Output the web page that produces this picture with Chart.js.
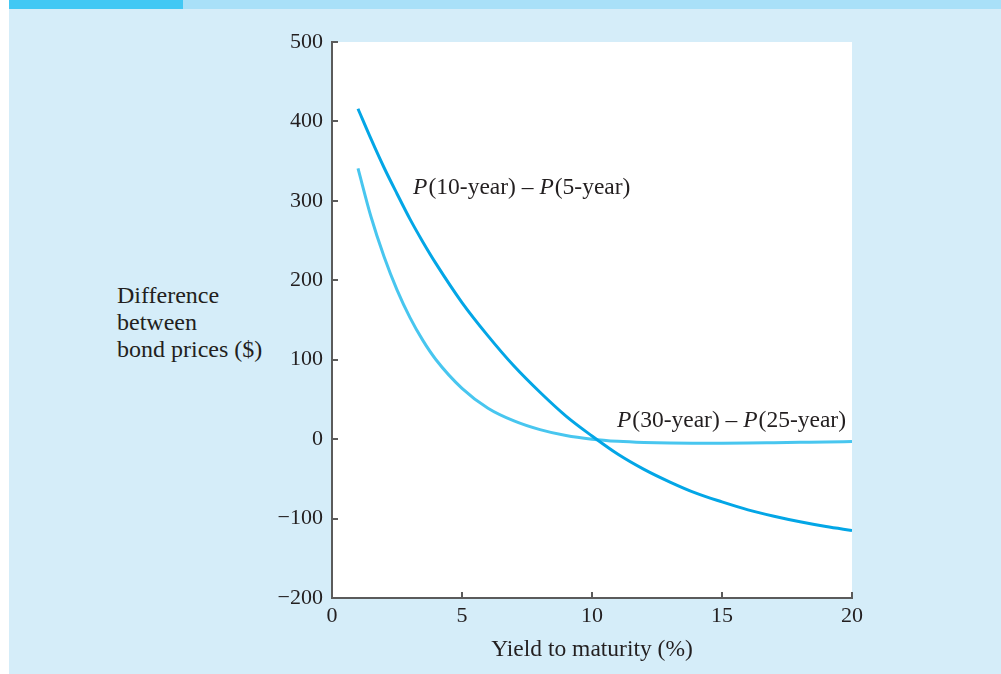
<!DOCTYPE html>
<html lang="en">
<head>
  <meta charset="UTF-8">
  <title>Difference between bond prices</title>
  <style>
    body {
      margin: 0;
      background: #ffffff;
      font-family: 'Liberation Serif', 'DejaVu Serif', serif;
    }

    .page {
      position: absolute;
      left: 9px;
      top: 0;
      width: 992px;
      height: 674px;
      background: #d5edf9;
    }

    .bar-dark {
      position: absolute;
      left: 9px;
      top: 0;
      width: 174px;
      height: 9px;
      background: #42c8f4;
    }

    .bar-light {
      position: absolute;
      left: 183px;
      top: 0;
      width: 818px;
      height: 9px;
      background: #a9e0f8;
    }

    .y-title {
      position: absolute;
      left: 117px;
      top: 282px;
      font-size: 24px;
      line-height: 27px;
      color: #231f20;
    }

    #chart-wrap {
      position: absolute;
      left: 0;
      top: 0;
      width: 1001px;
      height: 674px;
    }
  </style>
</head>
<body>
  <div class="page"></div>
  <div class="bar-dark"></div>
  <div class="bar-light"></div>
  <div class="y-title">Difference<br>between<br>bond prices ($)</div>

  <div id="chart-wrap">
    <canvas id="bond-chart" width="1001" height="674"></canvas>
  </div>

  <script src="https://cdn.jsdelivr.net/npm/chart.js"></script>
  <script>
    // yields (%) and price differences ($)
    const yields = [1, 1.5, 2, 2.5, 3, 3.5, 4, 5, 6, 7, 8, 9, 10, 11, 12, 13, 14, 15, 16, 17, 18, 19, 20];
    const diff10vs5 = [416, 378, 342, 309, 277, 248, 221, 172, 130, 92, 59, 29, 4, -19, -38, -54, -68, -79, -89, -97, -104, -110, -115];
    const diff30vs25 = [341, 280, 230, 188, 153, 124, 100, 64, 39, 23, 12, 4.5, 0, -2.7, -4.2, -5, -5.2, -5.1, -4.8, -4.4, -4, -3.6, -3];

    const xTicks = [0, 5, 10, 15, 20];
    const yTicks = [-200, -100, 0, 100, 200, 300, 400, 500];

    // curve labels: [x, y] in data units
    const label10 = { x: 3.12, y: 316, parts: [["P", true], ["(10-year) \u2013 ", false], ["P", true], ["(5-year)", false]] };
    const label30 = { x: 10.96, y: 23, parts: [["P", true], ["(30-year) \u2013 ", false], ["P", true], ["(25-year)", false]] };

    const textColor = "#231f20";
    const axisColor = "#5b5b5b";
    const serif = "'Liberation Serif', 'DejaVu Serif', serif";

    function toPoints(xs, ys) {
      return xs.map((x, i) => ({ x: x, y: ys[i] }));
    }

    const plotBackground = {
      id: "plotBackground",
      beforeDraw(chart) {
        const { ctx, chartArea } = chart;
        ctx.save();
        ctx.fillStyle = "#ffffff";
        ctx.fillRect(chartArea.left, chartArea.top, chartArea.right - chartArea.left, chartArea.bottom - chartArea.top);
        ctx.restore();
      },
    };

    // tick marks point into the plot, like the printed figure
    const innerTicks = {
      id: "innerTicks",
      afterDraw(chart) {
        const { ctx, chartArea } = chart;
        const xs = chart.scales.x;
        const ys = chart.scales.y;
        ctx.save();
        ctx.strokeStyle = axisColor;
        ctx.lineWidth = 2;
        ctx.beginPath();
        yTicks.forEach((v) => {
          const py = Math.round(ys.getPixelForValue(v));
          ctx.moveTo(chartArea.left, py);
          ctx.lineTo(chartArea.left + 6, py);
        });
        xTicks.forEach((v) => {
          const px = Math.round(xs.getPixelForValue(v));
          ctx.moveTo(px, chartArea.bottom);
          ctx.lineTo(px, chartArea.bottom - 6);
        });
        ctx.stroke();
        ctx.restore();
      },
    };

    const curveLabels = {
      id: "curveLabels",
      afterDraw(chart) {
        const { ctx } = chart;
        const xs = chart.scales.x;
        const ys = chart.scales.y;
        ctx.save();
        ctx.fillStyle = textColor;
        ctx.textBaseline = "middle";
        [label10, label30].forEach((lab) => {
          let px = xs.getPixelForValue(lab.x);
          const py = ys.getPixelForValue(lab.y);
          lab.parts.forEach(([txt, italic]) => {
            ctx.font = (italic ? "italic " : "") + "23.5px " + serif;
            ctx.fillText(txt, px, py);
            px += ctx.measureText(txt).width + (italic ? 1 : 0);
          });
        });
        ctx.restore();
      },
    };

    const ctx = document.getElementById("bond-chart").getContext("2d");

    new Chart(ctx, {
      type: "line",
      data: {
        datasets: [
          {
            label: "P(10-year) - P(5-year)",
            data: toPoints(yields, diff10vs5),
            borderColor: "#03a6e6",
            borderWidth: 3,
            pointRadius: 0,
            cubicInterpolationMode: "monotone",
            fill: false,
          },
          {
            label: "P(30-year) - P(25-year)",
            data: toPoints(yields, diff30vs25),
            borderColor: "#48c6ef",
            borderWidth: 3,
            pointRadius: 0,
            cubicInterpolationMode: "monotone",
            fill: false,
          },
        ],
      },
      options: {
        responsive: false,
        animation: false,
        layout: {
          padding: { left: 252, right: 149, top: 42, bottom: 6 },
        },
        scales: {
          x: {
            type: "linear",
            min: 0,
            max: 20,
            afterBuildTicks(scale) {
              scale.ticks = xTicks.map((v) => ({ value: v }));
            },
            afterFit(scale) {
              scale.height = 70;
            },
            grid: { display: false, drawTicks: false },
            border: { display: true, color: axisColor, width: 2 },
            ticks: {
              color: textColor,
              padding: 5,
              font: { family: serif, size: 22 },
            },
            title: {
              display: true,
              text: "Yield to maturity (%)",
              color: textColor,
              padding: { top: 2 },
              font: { family: serif, size: 23.5 },
            },
          },
          y: {
            type: "linear",
            min: -200,
            max: 500,
            afterBuildTicks(scale) {
              scale.ticks = yTicks.map((v) => ({ value: v }));
            },
            afterFit(scale) {
              scale.width = 80;
            },
            grid: { display: false, drawTicks: false },
            border: { display: true, color: axisColor, width: 2 },
            ticks: {
              color: textColor,
              padding: 9,
              font: { family: serif, size: 22 },
              callback: (v) => (v < 0 ? "\u2212" + Math.abs(v) : String(v)),
            },
          },
        },
        plugins: {
          legend: { display: false },
          tooltip: { enabled: false },
        },
      },
      plugins: [plotBackground, innerTicks, curveLabels],
    });
  </script>
</body>
</html>
